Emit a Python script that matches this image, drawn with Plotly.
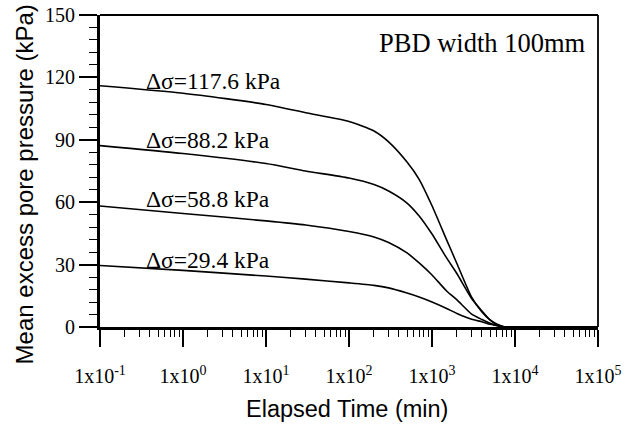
import plotly.graph_objects as go

# Elapsed time (min)
time_min = [0.1, 1, 10, 30, 100, 200, 300, 500, 700, 1000, 1500, 2000,
            3000, 4000, 5000, 6000, 7500, 10000, 100000]

# Mean excess pore pressure (kPa) for each load increment
u_117_6 = [116.0, 112.4, 107.0, 103.0, 98.8, 94.2, 89.0, 79.3, 71.0, 58.3,
           41.9, 30.4, 14.4, 7.2, 3.4, 1.4, 0.0, 0.0, 0.0]
u_88_2 = [87.2, 83.4, 78.6, 75.0, 71.6, 68.5, 65.4, 59.6, 53.4, 44.7,
          33.2, 25.6, 13.7, 7.7, 3.4, 1.2, 0.0, 0.0, 0.0]
u_58_8 = [58.2, 54.6, 51.0, 49.0, 45.9, 43.3, 40.6, 35.6, 30.8, 25.0,
          17.3, 13.0, 6.2, 3.6, 1.8, 0.7, 0.0, 0.0, 0.0]
u_29_4 = [29.6, 27.2, 24.5, 23.0, 21.2, 20.0, 18.8, 16.3, 14.4, 12.0,
          8.9, 6.5, 3.7, 2.5, 1.3, 0.7, 0.0, 0.0, 0.0]

series = [u_117_6, u_88_2, u_58_8, u_29_4]
labels = ["Δσ=117.6 kPa", "Δσ=88.2 kPa", "Δσ=58.8 kPa", "Δσ=29.4 kPa"]
label_y = [118.5, 90.0, 61.5, 32.0]

x_tickvals = [0.1, 1, 10, 100, 1000, 10000, 100000]
x_ticktext = ["1x10<sup>-1</sup>", "1x10<sup>0</sup>", "1x10<sup>1</sup>",
              "1x10<sup>2</sup>", "1x10<sup>3</sup>", "1x10<sup>4</sup>",
              "1x10<sup>5</sup>"]
y_tickvals = [0, 30, 60, 90, 120, 150]

SERIF = "Liberation Serif"
SANS = "Liberation Sans"

fig = go.Figure()
for vals in series:
    fig.add_trace(go.Scatter(x=time_min, y=vals, mode="lines",
                             line=dict(color="black", width=1.6, shape="spline",
                                       smoothing=0.6),
                             showlegend=False, hoverinfo="skip"))

for txt, yv in zip(labels, label_y):
    fig.add_annotation(text=txt, xref="paper", x=0.088, yref="y", y=yv,
                       xanchor="left", yanchor="middle", showarrow=False,
                       font=dict(family=SERIF, size=23.5, color="black"))

fig.add_annotation(text="PBD width 100mm", xref="paper", x=0.98, yref="paper",
                   y=0.91, xanchor="right", yanchor="middle", showarrow=False,
                   font=dict(family=SERIF, size=26.5, color="black"))

fig.add_annotation(text="Mean excess pore pressure (kPa)", xref="paper",
                   x=-0.152, xanchor="center", yref="paper", y=0.458,
                   yanchor="middle", textangle=-90, showarrow=False,
                   font=dict(family=SANS, size=24, color="black"))
fig.add_annotation(text="Elapsed Time (min)", xref="paper", x=0.495,
                   xanchor="center", yref="paper", y=-0.263, yanchor="middle",
                   showarrow=False, font=dict(family=SANS, size=23.5, color="black"))

# thinner frame on the top and right sides
fig.add_shape(type="line", xref="paper", yref="paper", x0=0, x1=1, y0=1, y1=1,
              line=dict(color="black", width=1.8))
fig.add_shape(type="line", xref="paper", yref="paper", x0=1, x1=1, y0=0, y1=1,
              line=dict(color="black", width=1.8))

fig.update_xaxes(type="log", range=[-1, 5], tickvals=x_tickvals,
                 ticktext=x_ticktext, ticks="outside", ticklen=17, tickwidth=1.5,
                 tickcolor="black", showline=True, linecolor="black",
                 linewidth=3, mirror=False, showgrid=False, zeroline=False,
                 ticklabelstandoff=12, automargin=False,
                 tickfont=dict(family=SERIF, size=20, color="black"),
                 minor=dict(ticks="outside", ticklen=7, tickwidth=1.2,
                            tickcolor="black", dtick="D1", showgrid=False))
fig.update_yaxes(range=[0, 150], tickvals=y_tickvals, ticks="outside",
                 ticklen=18, tickwidth=1.5, tickcolor="black", showline=True,
                 linecolor="black", linewidth=3, mirror=False, showgrid=False,
                 zeroline=False, ticklabelstandoff=0, automargin=False,
                 tickfont=dict(family=SERIF, size=20, color="black"),
                 minor=dict(ticks="outside", ticklen=8, tickwidth=1.2,
                            tickcolor="black", dtick=6, showgrid=False))

fig.update_layout(width=638, height=428, margin=dict(l=100, r=40, t=15, b=101),
                  plot_bgcolor="white", paper_bgcolor="white")

# remove the browser's default 8px page margin so the figure fills the window
fig.write_html("out.html", config={"displayModeBar": False},
               post_script="document.body.style.margin='0';")
